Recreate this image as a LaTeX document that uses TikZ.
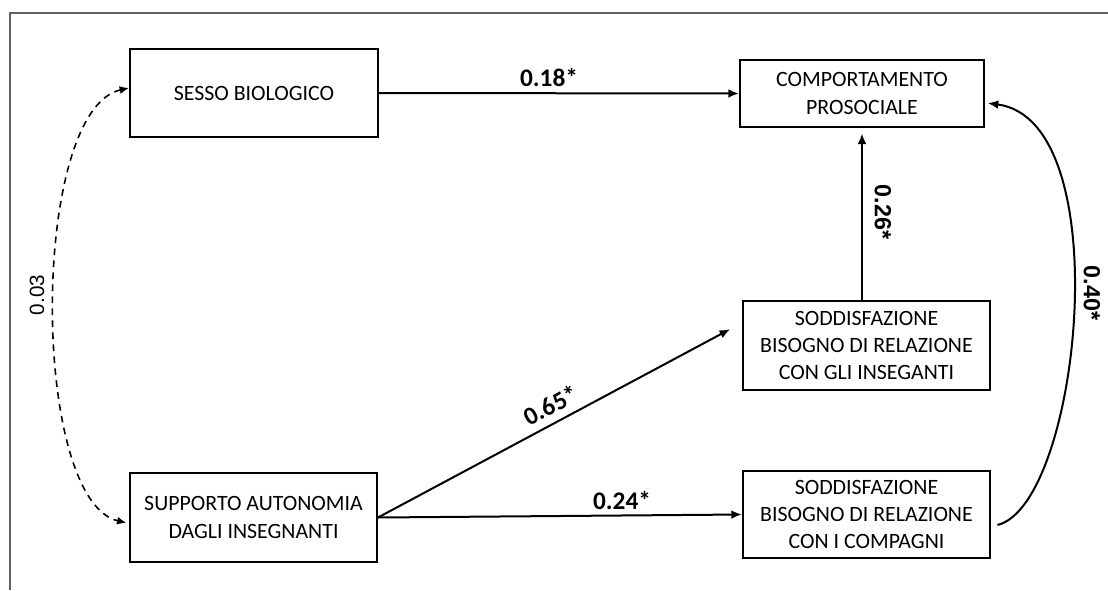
\documentclass[tikz,border=0pt]{standalone}
\usepackage{fontspec}
\setmainfont{Carlito}
\newfontfamily\arialf{Liberation Sans}
\usetikzlibrary{arrows.meta}
\begin{document}
\begin{tikzpicture}[x=0.75pt,y=-0.75pt,
  box/.style={draw=black,line width=1.5pt,rectangle,align=center,inner sep=2pt,
    font=\fontsize{16.4}{20.5}\selectfont},
  path/.style={draw=black,line width=1.5pt,-{Latex[length=8pt,width=6.5pt]}},
  corr/.style={draw=black,line width=1.2pt,dashed,dash pattern=on 5pt off 4pt,
    {Latex[length=7pt,width=6pt]}-{Latex[length=7pt,width=6pt]}},
  lab/.style={font=\fontsize{19}{22}\selectfont\bfseries,inner sep=0pt},
  alab/.style={font=\arialf\fontsize{17.5}{20}\selectfont\bfseries,inner sep=0pt},
  alabr/.style={font=\arialf\fontsize{15.5}{18}\selectfont,inner sep=0pt}]
\useasboundingbox (0,0) rectangle (1108,590);
\draw[gray!75!black,line width=1pt] (10,590) -- (10,13) -- (1108,13);

\node[box,minimum width=186pt,minimum height=66pt] (sesso) at (254,93) {SESSO BIOLOGICO};
\node[box,minimum width=183pt,minimum height=50.25pt] (comp) at (862,93.5) {COMPORTAMENTO\\PROSOCIALE};
\node[box,minimum width=185.25pt,minimum height=66.75pt] (supp) at (253.5,517.5) {SUPPORTO AUTONOMIA\\DAGLI INSEGNANTI};
\node[box,minimum width=185.25pt,minimum height=66.75pt] (sgli) at (866.5,345.5) {SODDISFAZIONE\\BISOGNO DI RELAZIONE\\CON GLI INSEGANTI};
\node[box,minimum width=185.25pt,minimum height=65.25pt] (scomp) at (866.5,514.5) {SODDISFAZIONE\\BISOGNO DI RELAZIONE\\CON I COMPAGNI};

\draw[path] (sesso.east) -- (comp.west);
\draw[path,shorten >=4pt] (sgli.north -| comp.south) -- (comp.south);
\draw[path,shorten >=10pt] (supp.east) -- ([yshift=17pt]sgli.west);
\draw[path] (supp.east) -- (scomp.west);
\draw[path,shorten <=5pt,shorten >=2pt] ([yshift=-9pt]scomp.east) .. controls (1080,505) and (1120,120) .. ([yshift=-7pt]comp.east);
\draw[corr] ([yshift=3.75pt]sesso.west) .. controls (30,110) and (30,500) .. ([yshift=-4pt,xshift=-2pt]supp.west);

\node[lab] (l18) at (549,78) {0.18*};
\node[lab] (l24) at (622,501) {0.24*};
\node[lab,rotate=28] (l65) at (551,405) {0.65*};
\node[alab,rotate=-90] (l26) at (883,212) {0.26*};
\node[alab,rotate=-90] (l40) at (1092,293) {0.40*};
\node[alabr,rotate=90] (l03) at (37,295) {0.03};
\end{tikzpicture}
\end{document}
